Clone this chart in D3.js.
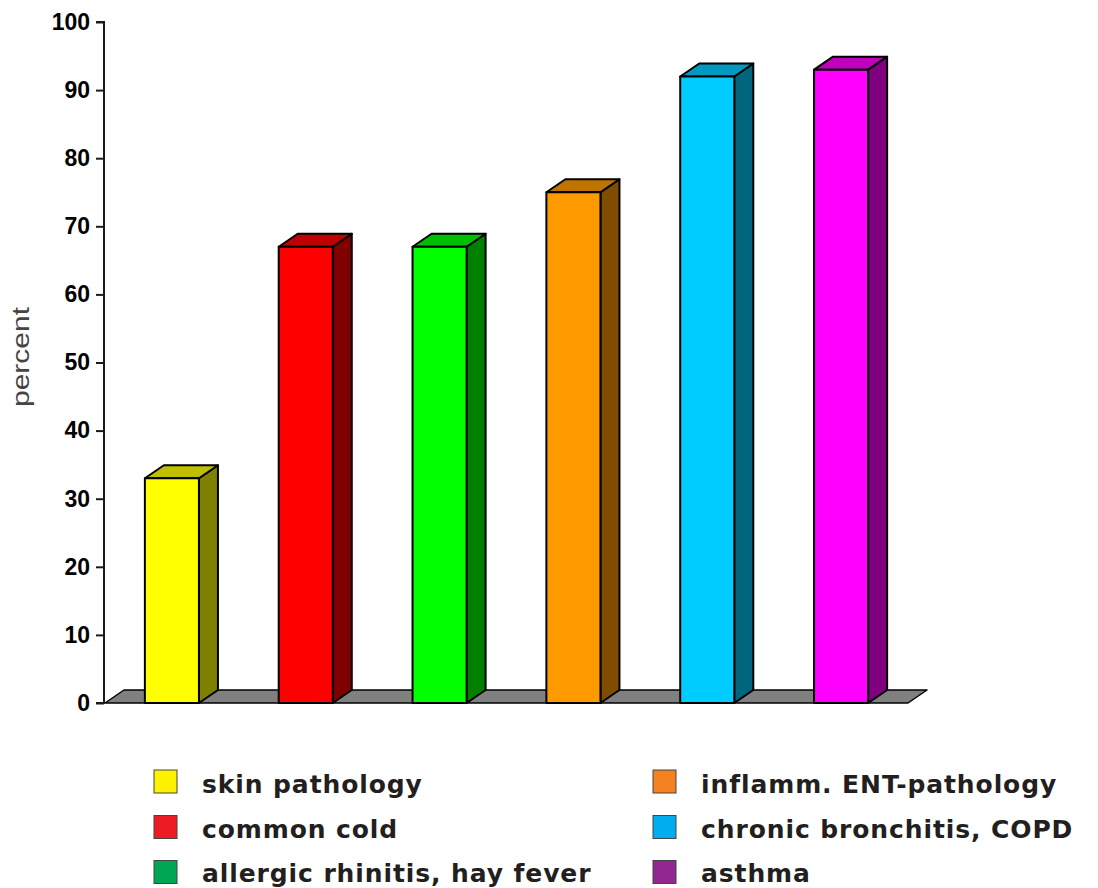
<!DOCTYPE html>
<html>
<head>
<meta charset="utf-8">
<script src="https://cdn.jsdelivr.net/npm/d3@7"></script>
<style>
  html, body { margin: 0; padding: 0; background: #fff; }
  svg { display: block; }
</style>
</head>
<body>
<svg id="chart" width="1098" height="888"></svg>
<script>
// ---- data ----
const categories = ["skin pathology", "common cold", "allergic rhinitis, hay fever",
                    "inflamm. ENT-pathology", "chronic bronchitis, COPD", "asthma"];
const values = [33, 67, 67, 75, 92, 93];
const barColors = ["#ffff00", "#ff0000", "#00ff00", "#ff9900", "#00ccff", "#ff00ff"];
const legendColors = ["#fff200", "#ed1c24", "#00a651", "#f58220", "#00aeef", "#92278f"];
const yTicks = [0, 10, 20, 30, 40, 50, 60, 70, 80, 90, 100];
const yLabel = "percent";

// ---- layout ----
const svg = d3.select("#chart");
const x0 = 105, x1 = 908, yBase = 703, yTopPx = 22;
const depthX = 19, depthY = -13;

const x = d3.scaleBand().domain(categories).range([x0, x1])
  .paddingInner(0.596).paddingOuter(0.298);
const y = d3.scaleLinear().domain([0, 100]).range([yBase, yTopPx]);

function shade(c, k) {
  const r = d3.rgb(c);
  return d3.rgb(r.r * k, r.g * k, r.b * k).formatHex();
}

// floor
svg.append("path")
  .attr("d", `M${x0},${yBase} L${x1},${yBase} L${x1 + depthX},${yBase + depthY} L${x0 + depthX},${yBase + depthY} Z`)
  .attr("fill", "#808080").attr("stroke", "#000").attr("stroke-width", 1.5)
  .attr("stroke-linejoin", "round");

// bars
const bars = svg.append("g").selectAll("g").data(categories).join("g");
bars.each(function (c, i) {
  const g = d3.select(this);
  const bx = x(c), bw = x.bandwidth(), by = y(values[i]), b0 = y(0);
  // side face
  g.append("path")
    .attr("d", `M${bx + bw},${b0} L${bx + bw + depthX},${b0 + depthY} L${bx + bw + depthX},${by + depthY} L${bx + bw},${by} Z`)
    .attr("fill", shade(barColors[i], 0.5));
  // top face
  g.append("path")
    .attr("d", `M${bx},${by} L${bx + depthX},${by + depthY} L${bx + bw + depthX},${by + depthY} L${bx + bw},${by} Z`)
    .attr("fill", shade(barColors[i], 0.75));
  // front face
  g.append("rect")
    .attr("x", bx).attr("y", by).attr("width", bw).attr("height", b0 - by)
    .attr("fill", barColors[i]);
  g.selectAll("path, rect").attr("stroke", "#000").attr("stroke-width", 2)
    .attr("stroke-linejoin", "round");
});

// y axis
const yAxis = svg.append("g").attr("transform", `translate(${x0 - 1},0)`)
  .call(d3.axisLeft(y).tickValues(yTicks).tickSize(8).tickPadding(6).tickFormat(d3.format("d")));
yAxis.select(".domain").attr("stroke", "#1a1a1a").attr("stroke-width", 2)
  .attr("d", `M-8,${yTopPx}H0V${yBase}H-8`);
yAxis.selectAll(".tick line").attr("stroke", "#1a1a1a").attr("stroke-width", 2);
yAxis.selectAll(".tick text")
  .attr("font-family", "'Liberation Sans', Arial, sans-serif")
  .attr("font-weight", "bold").attr("font-size", 23).attr("fill", "#000");

// y label
svg.append("text")
  .attr("transform", "translate(29,357) rotate(-90)")
  .attr("text-anchor", "middle")
  .attr("font-family", "'Liberation Sans', Arial, sans-serif")
  .attr("font-size", 23).attr("fill", "#444")
  .attr("textLength", 100).attr("lengthAdjust", "spacingAndGlyphs")
  .text(yLabel);

// legend
const legCols = [154, 653], legTextOff = 48, legRows = [781.5, 827, 872];
const leg = svg.append("g").selectAll("g").data(categories).join("g")
  .attr("transform", (d, i) => `translate(${legCols[Math.floor(i / 3)]},${legRows[i % 3]})`);
leg.append("rect")
  .attr("x", 0).attr("y", -11.5).attr("width", 23).attr("height", 23)
  .attr("fill", (d, i) => legendColors[i]).attr("stroke", "#444").attr("stroke-width", 1);
leg.append("text")
  .attr("x", legTextOff).attr("y", (d, i) => (i % 3 === 2 ? 10 : 11))
  .attr("font-family", "'DejaVu Sans', sans-serif")
  .attr("font-weight", "bold").attr("font-size", 25).attr("fill", "#231f20")
  .attr("letter-spacing", 0.9)
  .text(d => d);
</script>
</body>
</html>
